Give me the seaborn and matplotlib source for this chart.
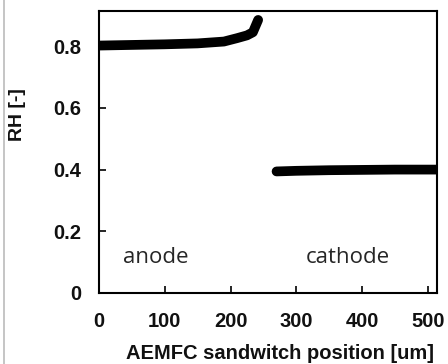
import matplotlib
matplotlib.use("Agg")
import matplotlib.pyplot as plt
import seaborn as sns
import pandas as pd

anode_x = [0, 50, 100, 150, 190, 210, 225, 234, 238, 242]
anode_rh = [0.802, 0.804, 0.806, 0.809, 0.815, 0.826, 0.835, 0.845, 0.865, 0.885]
cathode_x = [270, 300, 350, 400, 450, 500, 515]
cathode_rh = [0.394, 0.396, 0.398, 0.399, 0.400, 0.400, 0.400]
x_ticks = [0, 100, 200, 300, 400, 500]
y_ticks = [0, 0.2, 0.4, 0.6, 0.8]
y_tick_labels = ["0", "0.2", "0.4", "0.6", "0.8"]

sns.set_theme(style="ticks")
plt.rcParams['font.family'] = ['Liberation Sans', 'DejaVu Sans']

fig = plt.figure(figsize=(4.48, 3.64), dpi=100)
ax = fig.add_axes([99/448, 1-293/364, (437-99)/448, (293-11)/364])

df_a = pd.DataFrame({"x": anode_x, "rh": anode_rh})
df_c = pd.DataFrame({"x": cathode_x, "rh": cathode_rh})
for d in (df_a, df_c):
    sns.lineplot(data=d, x="x", y="rh", ax=ax, color="black", lw=7,
                 solid_capstyle="round", sort=False)

ax.set_xlim(0, 514)
ax.set_ylim(0, 0.914)
ax.set_xticks(x_ticks)
ax.set_xticklabels([str(t) for t in x_ticks], fontweight="bold", fontsize=14.5, color="#111")
ax.set_yticks(y_ticks)
ax.set_yticklabels(y_tick_labels, fontweight="bold", fontsize=14.5, color="#111")
ax.tick_params(direction="in", length=5, width=1.2, color="black")
ax.tick_params(axis="y", pad=13)
ax.tick_params(axis="x", pad=14)
for s in ax.spines.values():
    s.set_visible(True)
    s.set_color("black")
    s.set_linewidth(1.5)
ax.set_xlabel("AEMFC sandwitch position [um]", fontweight="bold", fontsize=14.5, color="#111")
ax.xaxis.set_label_coords((280 - 99) / 338, (293 - 353.5) / 282)
ax.xaxis.label.set_va("center")
ax.set_ylabel("RH [-]", fontweight="bold", fontsize=14, color="#111")
ax.yaxis.set_label_coords((18 - 99) / 338, (293 - 115) / 282)
ax.yaxis.label.set_va("center")

ax.text(36, 0.097, "anode", fontsize=16, family=["Open Sans", "DejaVu Sans"], va="baseline", ha="left")
ax.text(315, 0.097, "cathode", fontsize=16, family=["Open Sans", "DejaVu Sans"], va="baseline", ha="left")

fig.add_artist(plt.Line2D([4/448, 4/448], [0, 1], color="#bbbbbb", lw=1.2, transform=fig.transFigure))

fig.savefig("out.png", dpi=100)
